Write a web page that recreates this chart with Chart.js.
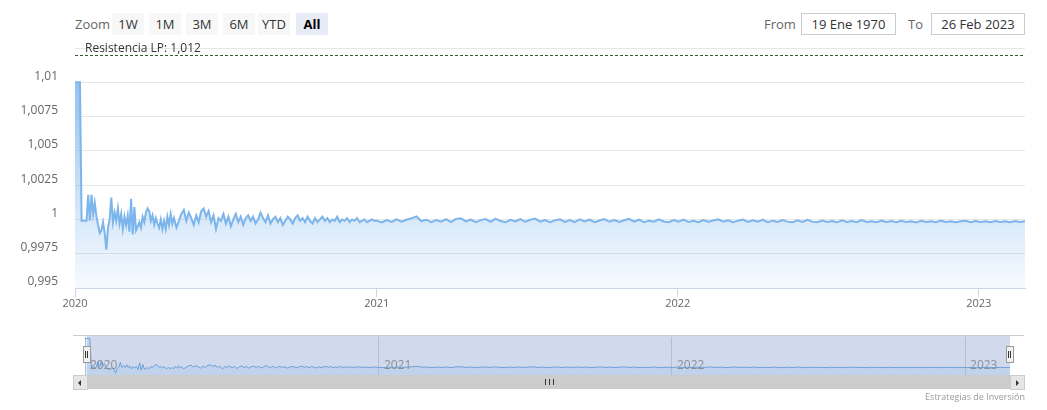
<!DOCTYPE html>
<html>
<head>
<meta charset="utf-8">
<title>Resistencia LP</title>
<script src="https://cdn.jsdelivr.net/npm/chart.js@4.4.0/dist/chart.umd.min.js"></script>
<style>
  body { margin: 0; background: #fff; font-family: "Open Sans", sans-serif; }
  #wrap { position: relative; width: 1047px; height: 410px; overflow: hidden; }
  .lbl { position: absolute; font-size: 13px; color: #666; line-height: 22px; top: 13px; }
  .btn { position: absolute; top: 13px; height: 22px; width: 32px; background: #f7f7f7; color: #333;
         font-size: 13px; line-height: 22px; text-align: center; }
  .btn.on { background: #e6ebf5; font-weight: bold; color: #000; }
  .inp { position: absolute; top: 13px; height: 20px; border: 1px solid #ccc; color: #333;
         font-size: 13px; line-height: 20px; text-align: center; }
  #resLabel { position: absolute; left: 85px; top: 40px; font-size: 12px; color: #333; line-height: 16px; }
  #mainCanvasBox { position: absolute; left: 0; top: 0; width: 1047px; height: 320px; }
  #navMask { position: absolute; left: 87px; top: 335px; width: 923px; height: 40px; background: rgba(102,133,194,0.3); }
  #navTop { position: absolute; left: 73px; top: 335px; width: 951px; height: 0; border-top: 1px solid #cccccc; }
  #navCanvasBox { position: absolute; left: 0; top: 335px; width: 1047px; height: 40px; }
  .handle { position: absolute; top: 346px; width: 6px; height: 15px; background: #f2f2f2; border: 1px solid #999; }
  .handle:before, .handle:after { content: ""; position: absolute; top: 4px; height: 7px; width: 0; border-left: 1px solid #333; }
  .handle:before { left: 1px; } .handle:after { left: 3px; }
  #scroll { position: absolute; left: 73px; top: 375px; width: 951px; height: 14px; background: #cccccc; }
  .sbtn { position: absolute; top: 0; width: 13px; height: 13px; background: #e6e6e6; border: 1px solid #cccccc; }
  .arrowL { position: absolute; left: 4px; top: 4px; width: 0; height: 0; border-top: 3px solid transparent; border-bottom: 3px solid transparent; border-right: 3px solid #333; }
  .arrowR { position: absolute; left: 5px; top: 4px; width: 0; height: 0; border-top: 3px solid transparent; border-bottom: 3px solid transparent; border-left: 3px solid #333; }
  #grip { position: absolute; left: 472px; top: 4px; width: 7px; height: 6px;
          border-left: 1px solid #333; border-right: 1px solid #333; }
  #grip:after { content: ""; position: absolute; left: 3px; top: 0; height: 6px; border-left: 1px solid #333; }
  #credit { position: absolute; right: 22px; top: 390px; font-size: 9px; color: #999; }
</style>
</head>
<body>
<div id="wrap">
  <div class="lbl" style="left:75px;">Zoom</div>
  <div class="btn" style="left:112px;">1W</div>
  <div class="btn" style="left:149px;">1M</div>
  <div class="btn" style="left:186px;">3M</div>
  <div class="btn" style="left:223px;">6M</div>
  <div class="btn" style="left:258px;">YTD</div>
  <div class="btn on" style="left:296px;">All</div>

  <div class="lbl" style="left:764px;">From</div>
  <div class="inp" style="left:801px; width:93px;">19 Ene 1970</div>
  <div class="lbl" style="left:908px;">To</div>
  <div class="inp" style="left:931px; width:92px;">26 Feb 2023</div>

  <div id="mainCanvasBox"><canvas id="mainChart"></canvas></div>
  <div id="resLabel">Resistencia LP: 1,012</div>

  <div id="navMask"></div>
  <div id="navTop"></div>
  <div id="navCanvasBox"><canvas id="navChart"></canvas></div>
  <div class="handle" style="left:83px;"></div>
  <div class="handle" style="left:1006px;"></div>

  <div id="scroll">
    <div class="sbtn" style="left:0;"><div class="arrowL"></div></div>
    <div id="grip"></div>
    <div class="sbtn" style="left:937px;"><div class="arrowR"></div></div>
  </div>
  <div id="credit">Estrategias de Inversión</div>
</div>

<script>
    // --- DATA ---
    // first months of 2020: one value every 2 days
    const earlyStartDay = 0;
    const earlyStep = 2;
    const earlyValues = [
        1.0100, 1.0100, 1.0100, 1.0100, 0.9999, 0.9999, 0.9999, 0.9999, 1.0018, 0.9999,
        1.0018, 1.0004, 1.0012, 1.0002, 0.9996, 0.9990, 0.9992, 0.9998, 0.9990, 0.9978,
        0.9994, 1.0000, 1.0016, 0.9998, 1.0005, 0.9999, 1.0008, 0.9997, 1.0004, 0.9993,
        1.0002, 0.9996, 1.0003, 0.9991, 1.0015, 0.9989, 1.0009, 0.9992, 0.9995, 0.9998,
        0.9994, 1.0002, 0.9998, 1.0005, 1.0008, 1.0006, 0.9999, 1.0003, 0.9996, 1.0001,
        0.9997, 0.9994, 1.0000, 0.9993, 0.9999, 0.9993, 1.0002, 0.9996, 1.0004, 0.9997,
        1.0001
    ];
    // rest of 2020: one value every 3 days
    const midStartDay = 123;
    const midStep = 3;
    const midValues = [
        0.9994, 0.9999, 1.0004, 1.0007, 0.9999, 1.0005, 1.0001, 0.9996, 1.0003, 0.9998,
        1.0006, 1.0008, 1.0002, 1.0006, 0.9998, 1.0003, 0.9993, 1.0001, 0.9999, 1.0004,
        0.9997, 1.0002, 0.9995, 1.0000, 1.0004, 0.9998, 1.0002, 0.9996, 1.0001, 1.0003,
        0.9999, 1.0002, 0.9997, 1.0000, 1.0005, 1.0001, 0.9998, 1.0003, 0.9997, 1.0000,
        1.0002, 0.9998, 1.0001, 0.9996, 0.9999, 1.0002, 1.0000, 0.9997, 1.0001, 1.0003,
        0.9999, 1.0001, 0.9998, 1.0002, 0.9999, 0.9997, 1.0001, 0.9998, 1.0000, 1.0002,
        0.9999, 1.0001, 0.9998, 1.0000, 0.9999, 1.0002, 0.9998, 1.0000, 0.9999, 1.0001,
        0.9998, 1.0000, 0.9999, 1.0001, 0.9998, 0.9999, 1.0000, 0.9998, 0.9999, 1.0000,
        0.9999
    ];
    // 2021 to Feb 2023: one value every 6 days
    const lateStartDay = 366;
    const lateStep = 6;
    const lateValues = [
        0.99990, 0.99978, 0.99995, 0.99982, 1.00000, 0.99984, 0.99998, 1.00008, 1.00022, 0.99988,
        0.99998, 0.99980, 0.99996, 0.99984, 1.00002, 0.99981, 1.00004, 1.00008, 0.99986, 0.99999,
        0.99980, 0.99995, 1.00003, 0.99983, 1.00006, 0.99988, 0.99979, 0.99997, 0.99985, 1.00002,
        0.99983, 0.99998, 1.00006, 0.99984, 0.99996, 0.99980, 0.99993, 1.00001, 0.99982, 0.99996,
        0.99981, 1.00001, 0.99986, 0.99998, 0.99980, 0.99992, 1.00003, 0.99983, 0.99996, 0.99981,
        0.99994, 1.00004, 0.99984, 0.99998, 0.99980, 0.99991, 0.99983, 1.00000, 0.99985, 0.99980,
        0.99995, 0.99983, 0.99999, 0.99981, 0.99990, 0.99980, 0.99996, 0.99983, 0.99992, 1.00001,
        0.99983, 0.99994, 0.99980, 0.99991, 0.99999, 0.99982, 0.99993, 0.99983, 0.99997, 0.99980,
        0.99991, 0.99982, 0.99995, 0.99984, 0.99979, 0.99993, 0.99982, 0.99997, 0.99984, 0.99980,
        0.99992, 0.99982, 0.99988, 0.99979, 0.99993, 0.99982, 0.99989, 0.99980, 0.99995, 0.99982,
        0.99987, 0.99979, 0.99991, 0.99981, 0.99988, 0.99979, 0.99990, 0.99981, 0.99987, 0.99978,
        0.99990, 0.99981, 0.99986, 0.99979, 0.99991, 0.99981, 0.99987, 0.99979, 0.99986, 0.99990,
        0.99979, 0.99988, 0.99981, 0.99986, 0.99979, 0.99988, 0.99981, 0.99986, 0.99979, 0.99988,
        0.99982, 0.99986
    ];
    const resistanceLevel = 1.012;

    // axes: days since 1 Jan 2020
    const xMax = 1152; // 26 Feb 2023
    const xTickDays = [0, 366, 731, 1096];
    const xTickLabels = ['2020', '2021', '2022', '2023'];
    const yTicks = [0.995, 0.9975, 1, 1.0025, 1.005, 1.0075, 1.01, 1.0125];
    const yMin = 0.995, yMax = 1.0125;

    const toPoints = (vals, start, step) => vals.map((v, i) => ({ x: start + i * step, y: v }));
    const points = toPoints(earlyValues, earlyStartDay, earlyStep)
        .concat(toPoints(midValues, midStartDay, midStep))
        .concat(toPoints(lateValues, lateStartDay, lateStep));

    const fmt = v => Number(v.toFixed(4)).toString().replace('.', ',');

    // --- PLOT LINE (dashed resistance) ---
    const plotLinePlugin = {
        id: 'plotLine',
        afterDatasetsDraw(chart) {
            const { ctx, chartArea, scales } = chart;
            const y = Math.round(scales.y.getPixelForValue(resistanceLevel)) + 0.5;
            ctx.save();
            ctx.strokeStyle = '#2e5e2e';
            ctx.lineWidth = 1;
            ctx.setLineDash([3, 2]);
            ctx.beginPath();
            ctx.moveTo(chartArea.left, y);
            ctx.lineTo(chartArea.right, y);
            ctx.stroke();
            ctx.restore();
        }
    };

    // navigator year labels sit inside the plot, next to the grid line
    const navLabelsPlugin = {
        id: 'navLabels',
        afterDraw(chart) {
            const { ctx, scales } = chart;
            ctx.save();
            ctx.fillStyle = '#8a8f99';
            ctx.font = '12px "Open Sans", sans-serif';
            ctx.textBaseline = 'middle';
            xTickDays.forEach((d, i) => {
                ctx.fillText(xTickLabels[i], scales.x.getPixelForValue(d) + 5, 31);
            });
            ctx.restore();
        }
    };

    Chart.defaults.font.family = '"Open Sans", sans-serif';
    Chart.defaults.animation = false;

    // --- MAIN CHART ---
    new Chart(document.getElementById('mainChart'), {
        type: 'line',
        data: {
            datasets: [{
                data: points,
                borderColor: '#7cb5ec',
                borderWidth: 2,
                pointRadius: 0,
                tension: 0,
                fill: 'start',
                backgroundColor(c) {
                    const area = c.chart.chartArea;
                    if (!area) return 'rgba(124,181,236,0.3)';
                    const g = c.chart.ctx.createLinearGradient(0, area.top, 0, area.bottom);
                    g.addColorStop(0, 'rgba(124,181,236,0.95)');
                    g.addColorStop(0.7, 'rgba(124,181,236,0.3)');
                    g.addColorStop(1, 'rgba(124,181,236,0.07)');
                    return g;
                }
            }]
        },
        options: {
            responsive: true,
            maintainAspectRatio: false,
            layout: { padding: { top: 48, right: 22, left: 0, bottom: 0 } },
            plugins: { legend: { display: false }, tooltip: { enabled: false } },
            scales: {
                x: {
                    type: 'linear', min: 0, max: xMax,
                    afterBuildTicks: s => { s.ticks = xTickDays.map(v => ({ value: v })); },
                    afterFit: s => { s.height = 32; },
                    grid: { drawOnChartArea: false, drawTicks: true, tickLength: 9, tickColor: '#ccd6eb' },
                    border: { color: '#ccd6eb' },
                    ticks: { color: '#666', font: { size: 11 }, padding: 0, maxRotation: 0,
                             callback: (v, i) => xTickLabels[i] }
                },
                y: {
                    min: yMin, max: yMax,
                    afterBuildTicks: s => { s.ticks = yTicks.map(v => ({ value: v })); },
                    afterFit: s => { s.width = 75; },
                    grid: { color: '#e6e6e6', drawTicks: false },
                    border: { display: false },
                    ticks: { color: '#666', font: { size: 12 }, padding: 17, labelOffset: -6,
                             callback: v => (v > 1.011 ? '' : fmt(v)) }
                }
            }
        },
        plugins: [plotLinePlugin]
    });

    // --- NAVIGATOR ---
    new Chart(document.getElementById('navChart'), {
        type: 'line',
        data: {
            datasets: [{
                data: points,
                borderColor: '#6c9fd6',
                borderWidth: 1,
                pointRadius: 0,
                tension: 0,
                fill: 'start',
                backgroundColor: 'rgba(124,181,236,0.2)'
            }]
        },
        options: {
            responsive: true,
            maintainAspectRatio: false,
            layout: { padding: { top: 2, right: 37, left: 85, bottom: 0 } },
            plugins: { legend: { display: false }, tooltip: { enabled: false } },
            scales: {
                x: {
                    type: 'linear', min: 0, max: xMax,
                    afterBuildTicks: s => { s.ticks = xTickDays.map(v => ({ value: v })); },
                    afterFit: s => { s.height = 0; },
                    grid: { color: '#b8c0d0', drawTicks: false },
                    border: { display: false },
                    ticks: { display: false }
                },
                y: { display: false, min: 0.9972, max: 1.0105 }
            }
        },
        plugins: [navLabelsPlugin]
    });
</script>
</body>
</html>
